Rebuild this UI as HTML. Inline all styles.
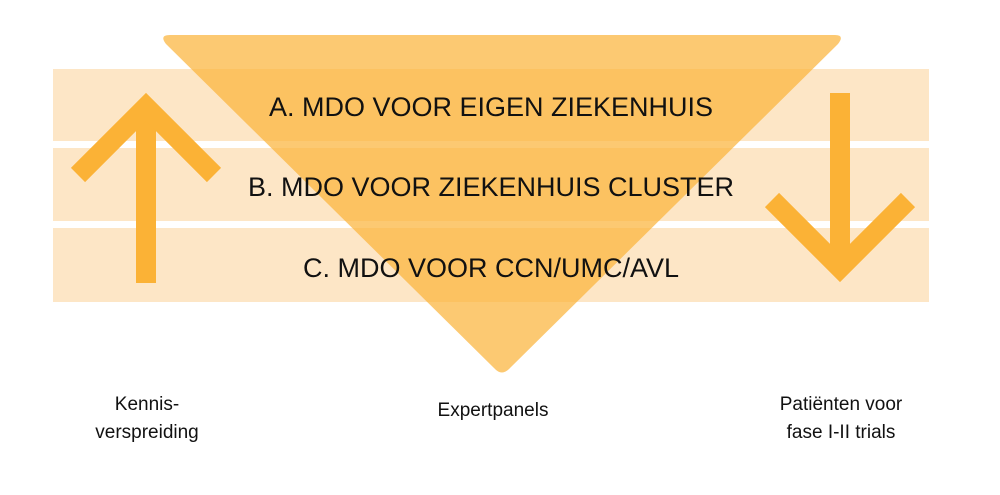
<!DOCTYPE html>
<html><head><meta charset="utf-8"><style>
body{margin:0;background:#fff;width:1000px;height:490px;overflow:hidden}
</style></head><body>
<svg width="1000" height="490" viewBox="0 0 1000 490" xmlns="http://www.w3.org/2000/svg">
<rect x="53" y="69" width="876" height="72" fill="#fde6c6"/>
<rect x="53" y="148" width="876" height="73" fill="#fde6c6"/>
<rect x="53" y="228" width="876" height="74" fill="#fde6c6"/>
<path d="M170 35 L835 35 Q845 35 838 44 L510 368 Q502 377 494 368 L166 44 Q159 35 170 35 Z" fill="#fbb236" fill-opacity="0.7"/>
<g stroke="#fbb236" stroke-width="20" fill="none">
<line x1="146" y1="112" x2="146" y2="283"/>
<polyline points="78,175 146,107 214,175"/>
<line x1="840" y1="93" x2="840" y2="262"/>
<polyline points="772,200 840,268 908,200"/>
</g>
<g font-family="Liberation Sans, sans-serif" font-size="27" fill="#111" text-anchor="middle">
<text x="491" y="116">A. MDO VOOR EIGEN ZIEKENHUIS</text>
<text x="491" y="196">B. MDO VOOR ZIEKENHUIS CLUSTER</text>
<text x="491" y="277">C. MDO VOOR CCN/UMC/AVL</text>
</g>
<g font-family="Liberation Sans, sans-serif" font-size="19" fill="#111" text-anchor="middle">
<text x="147" y="410">Kennis-</text>
<text x="147" y="438">verspreiding</text>
<text x="493" y="416">Expertpanels</text>
<text x="841" y="410">Patiënten voor</text>
<text x="841" y="438">fase I-II trials</text>
</g>
</svg>
</body></html>
